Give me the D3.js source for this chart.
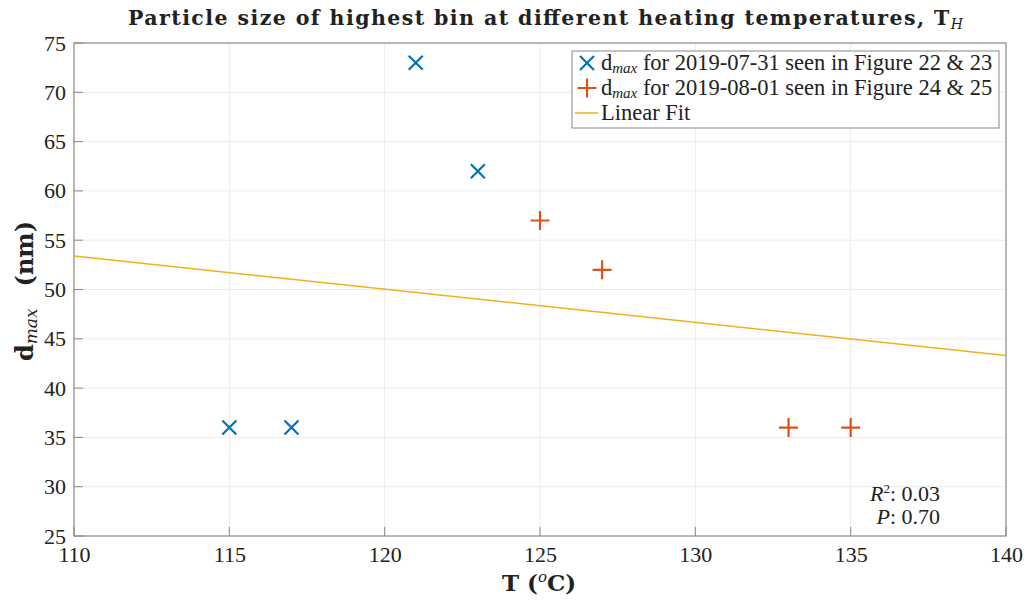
<!DOCTYPE html>
<html>
<head>
<meta charset="utf-8">
<script src="https://cdn.jsdelivr.net/npm/d3@7"></script>
<style>
  body { margin: 0; background: #fff; }
  svg text { font-family: "Liberation Serif", "DejaVu Serif", serif; fill: #222; }
</style>
</head>
<body>
<svg id="vis" width="1027" height="601"></svg>
<script>
// datos
const tempA = [115, 117, 121, 123];
const dmaxA = [36, 36, 73, 62];
const tempB = [125, 127, 133, 135];
const dmaxB = [57, 52, 36, 36];
const fitT = [110, 140];
const fitD = [53.4, 43.3];
const xTicks = [110, 115, 120, 125, 130, 135, 140];
const yTicks = [25, 30, 35, 40, 45, 50, 55, 60, 65, 70, 75];

const SVG = d3.select("#vis");
const m = { left: 74, right: 1006, top: 43, bottom: 536 };
const boldFont = "DejaVu Serif";

const x = d3.scaleLinear().domain([110, 140]).range([m.left, m.right]);
const y = d3.scaleLinear().domain([25, 75]).range([m.bottom, m.top]);

// grilla
SVG.append("g").selectAll("line").data(xTicks.slice(1, -1)).join("line")
  .attr("x1", d => x(d)).attr("x2", d => x(d))
  .attr("y1", m.top).attr("y2", m.bottom)
  .attr("stroke", "#ebebeb").attr("stroke-width", 1);
SVG.append("g").selectAll("line").data(yTicks.slice(1, -1)).join("line")
  .attr("y1", d => y(d)).attr("y2", d => y(d))
  .attr("x1", m.left).attr("x2", m.right)
  .attr("stroke", "#ebebeb").attr("stroke-width", 1);

// ejes
const xAxis = SVG.append("g").attr("transform", `translate(0,${m.bottom})`)
  .call(d3.axisBottom(x).tickValues(xTicks).tickSize(0).tickPadding(10));
const yAxis = SVG.append("g").attr("transform", `translate(${m.left},0)`)
  .call(d3.axisLeft(y).tickValues(yTicks).tickSize(0).tickPadding(8));
[xAxis, yAxis].forEach(a => {
  a.select(".domain").remove();
  a.selectAll("text").attr("font-size", 22).attr("fill", "#222")
    .attr("font-family", "Liberation Serif, serif");
});

// marcas internas de los ticks
SVG.append("g").selectAll("line").data(xTicks).join("line")
  .attr("x1", d => x(d)).attr("x2", d => x(d))
  .attr("y1", m.bottom).attr("y2", m.bottom - 9)
  .attr("stroke", "#888");
SVG.append("g").selectAll("line").data(yTicks).join("line")
  .attr("y1", d => y(d)).attr("y2", d => y(d))
  .attr("x1", m.left).attr("x2", m.left + 9)
  .attr("stroke", "#888");

// caja
SVG.append("rect")
  .attr("x", m.left).attr("y", m.top)
  .attr("width", m.right - m.left).attr("height", m.bottom - m.top)
  .attr("fill", "none").attr("stroke", "#888").attr("stroke-width", 1.2);

// ajuste lineal
SVG.append("line")
  .attr("x1", x(fitT[0])).attr("y1", y(fitD[0]))
  .attr("x2", x(fitT[1])).attr("y2", y(fitD[1]))
  .attr("stroke", "#EDB120").attr("stroke-width", 1.5);

const blue = "#0072BD", red = "#D95319";

function cross(g, cx, cy, r, color) {
  g.append("path")
    .attr("d", `M${cx - r},${cy - r}L${cx + r},${cy + r}M${cx - r},${cy + r}L${cx + r},${cy - r}`)
    .attr("stroke", color).attr("stroke-width", 2.2).attr("fill", "none");
}
function plus(g, cx, cy, r, color) {
  g.append("path")
    .attr("d", `M${cx - r},${cy}L${cx + r},${cy}M${cx},${cy - r}L${cx},${cy + r}`)
    .attr("stroke", color).attr("stroke-width", 2.2).attr("fill", "none");
}

const pts = SVG.append("g");
tempA.forEach((t, i) => cross(pts, x(t), y(dmaxA[i]), 7, blue));
tempB.forEach((t, i) => plus(pts, x(t), y(dmaxB[i]), 9.5, red));

// leyenda
const leg = SVG.append("g");
leg.append("rect").attr("x", 572).attr("y", 51).attr("width", 427).attr("height", 77)
  .attr("fill", "#fff").attr("stroke", "#888").attr("stroke-width", 1);
cross(leg, 587, 63, 7, blue);
plus(leg, 587, 88, 9.5, red);
leg.append("line").attr("x1", 575).attr("x2", 598).attr("y1", 113).attr("y2", 113)
  .attr("stroke", "#EDB120").attr("stroke-width", 1.5);

const legLabels = [
  ["2019-07-31", "22 & 23"],
  ["2019-08-01", "24 & 25"]
];
legLabels.forEach((l, i) => {
  const t = leg.append("text").attr("x", 601).attr("y", 70 + i * 25).attr("font-size", 22.5);
  t.append("tspan").text("d");
  t.append("tspan").attr("font-size", 15).attr("font-style", "italic").attr("dy", 3).text("max");
  t.append("tspan").attr("dy", -3).text(` for ${l[0]} seen in Figure ${l[1]}`);
});
leg.append("text").attr("x", 601).attr("y", 120).attr("font-size", 22.5).text("Linear Fit");

// estadisticos
const r2 = SVG.append("text").attr("x", 940).attr("y", 501).attr("text-anchor", "end").attr("font-size", 22);
r2.append("tspan").attr("font-style", "italic").text("R");
r2.append("tspan").attr("font-size", 13).attr("dy", -8).text("2");
r2.append("tspan").attr("dy", 8).text(": 0.03");
const p = SVG.append("text").attr("x", 940).attr("y", 524).attr("text-anchor", "end").attr("font-size", 22);
p.append("tspan").attr("font-style", "italic").text("P");
p.append("tspan").text(": 0.70");

// titulo
const title = SVG.append("text").attr("x", 128).attr("y", 25)
  .attr("font-size", 20.5).attr("font-weight", "bold")
  .attr("textLength", 835).attr("lengthAdjust", "spacing")
  .style("font-family", boldFont);
title.append("tspan").text("Particle size of highest bin at different heating temperatures, T");
title.append("tspan").attr("font-size", 14).attr("font-style", "italic").attr("font-weight", "normal").attr("dy", 4).text("H");

// etiqueta eje x
const xl = SVG.append("text").attr("x", 539).attr("y", 591)
  .attr("text-anchor", "middle").attr("font-size", 23).attr("font-weight", "bold")
  .style("font-family", boldFont);
xl.append("tspan").text("T (");
xl.append("tspan").attr("font-size", 15).attr("font-style", "italic").attr("font-weight", "normal").attr("dy", -9).text("o");
xl.append("tspan").attr("dy", 9).text("C)");

// etiqueta eje y
const yl = SVG.append("text").attr("transform", "translate(33,291) rotate(-90)")
  .attr("text-anchor", "middle").attr("font-size", 24).attr("font-weight", "bold")
  .style("font-family", boldFont);
yl.append("tspan").text("d");
yl.append("tspan").attr("font-size", 17).attr("font-style", "italic").attr("font-weight", "normal").attr("dy", 4).text("max");
yl.append("tspan").attr("dy", -4).attr("dx", 22).text("(nm)");
</script>
</body>
</html>
